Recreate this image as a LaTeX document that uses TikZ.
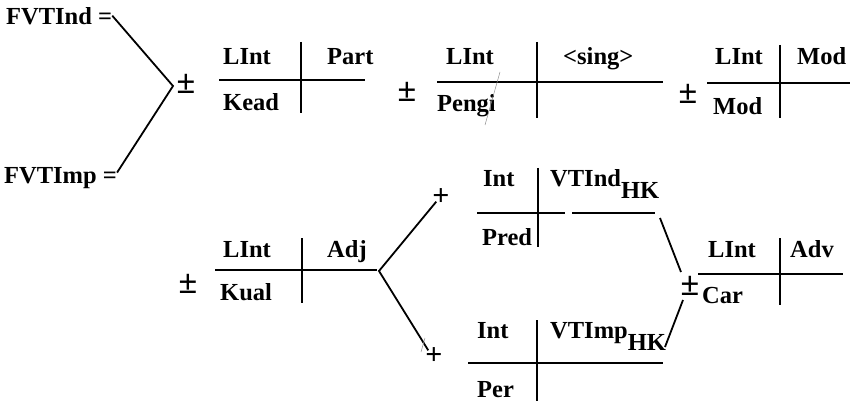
\documentclass[tikz,border=0pt]{standalone}
\usepackage{fontspec}
\setmainfont{Liberation Serif}
\begin{document}
\begin{tikzpicture}[x=1pt,y=-1pt,
  every node/.style={inner sep=0pt, font=\bfseries\fontsize{24.5}{28}\selectfont},
  lbl/.style={anchor=base west},
  sgn/.style={anchor=center, font=\bfseries\fontsize{34}{38}\selectfont},
  plus/.style={anchor=center, font=\bfseries\fontsize{30}{34}\selectfont},
  rule/.style={line width=1.8pt},
  link/.style={line width=1.8pt},
  smudge/.style={line width=0.5pt, black!45}]
\useasboundingbox (0,0) rectangle (852,401);

% ---- left-hand definitions
\node[lbl] (ind) at (6,25) {FVTInd =};
\node[lbl] (imp) at (4,184) {FVTImp =};
\coordinate (v1) at (173,86);
\draw[link] ([yshift=1pt]ind.east) -- (v1) -- ([yshift=6pt]imp.east);

% ---- first row
\node[sgn] (pm1) at (186,84) {±};
\draw[rule] (219,80) -- (365,80);
\draw[rule] (301,42) -- (301,113);
\node[lbl] (l1) at (223,65) {LInt};
\node[lbl] (kead) at (223,111) {Kead};
\node[lbl] (part) at (327,65) {Part};

\node[sgn] (pm2) at (407,92) {±};
\draw[rule] (437,82) -- (663,82);
\draw[rule] (537,42) -- (537,118);
\node[lbl] (l2) at (446,65) {LInt};
\node[lbl] (pengi) at (437,112) {Pengi};
\node[lbl] (sing) at (563,65) {<sing>};
\draw[smudge] (500,72) -- (485,125);

\node[sgn] (pm3) at (688,94) {±};
\draw[rule] (707,83) -- (850,83);
\draw[rule] (780,45) -- (780,118);
\node[lbl] (l3) at (715,65) {LInt};
\node[lbl] (mod1) at (797,65) {Mod};
\node[lbl] (mod2) at (713,115) {Mod};

% ---- second row
\node[sgn] (pm4) at (188,284) {±};
\draw[rule] (215,270) -- (377,270);
\draw[rule] (302,238) -- (302,303);
\node[lbl] (l4) at (223,257) {LInt};
\node[lbl] (kual) at (220,300) {Kual};
\node[lbl] (adj) at (327,257) {Adj};

\coordinate (v2) at (379,271);
\node[plus] (pu) at (441,197) {+};
\node[plus] (pl) at (434,356) {+};
\draw[link] ([shift={(4pt,4pt)}]pu.south west) -- (v2) -- ([shift={(3pt,-3pt)}]pl.north west);
\draw[smudge] (425,338) -- (421,352);

% upper branch
\draw[rule] (477,213) -- (565,213);
\draw[rule] (572,213) -- (655,213);
\draw[rule] (538,168) -- (538,247);
\node[lbl] (int1) at (483,187) {Int};
\node[lbl] (pred) at (482,245) {Pred};
\node[lbl] (vti) at (550,187) {VTInd\raisebox{-11pt}{HK}};

% lower branch
\draw[rule] (468,363) -- (663,363);
\draw[rule] (537,320) -- (537,401);
\node[lbl] (int2) at (477,338) {Int};
\node[lbl] (per) at (477,397) {Per};
\node[lbl] (vtm) at (550,338) {VTImp\raisebox{-12pt}{HK}};

% joining sign and final frame
\node[sgn] (pm5) at (690,286) {±};
\coordinate (ju) at (660,218);
\coordinate (jl) at (665,347);
\draw[link] (ju) -- (681,272);
\draw[link] (jl) -- (683,300);
\draw[rule] (698,274) -- (843,274);
\draw[rule] (780,238) -- (780,305);
\node[lbl] (l5) at (708,257) {LInt};
\node[lbl] (adv) at (790,257) {Adv};
\node[lbl] (car) at (702,303) {Car};
\end{tikzpicture}
\end{document}
